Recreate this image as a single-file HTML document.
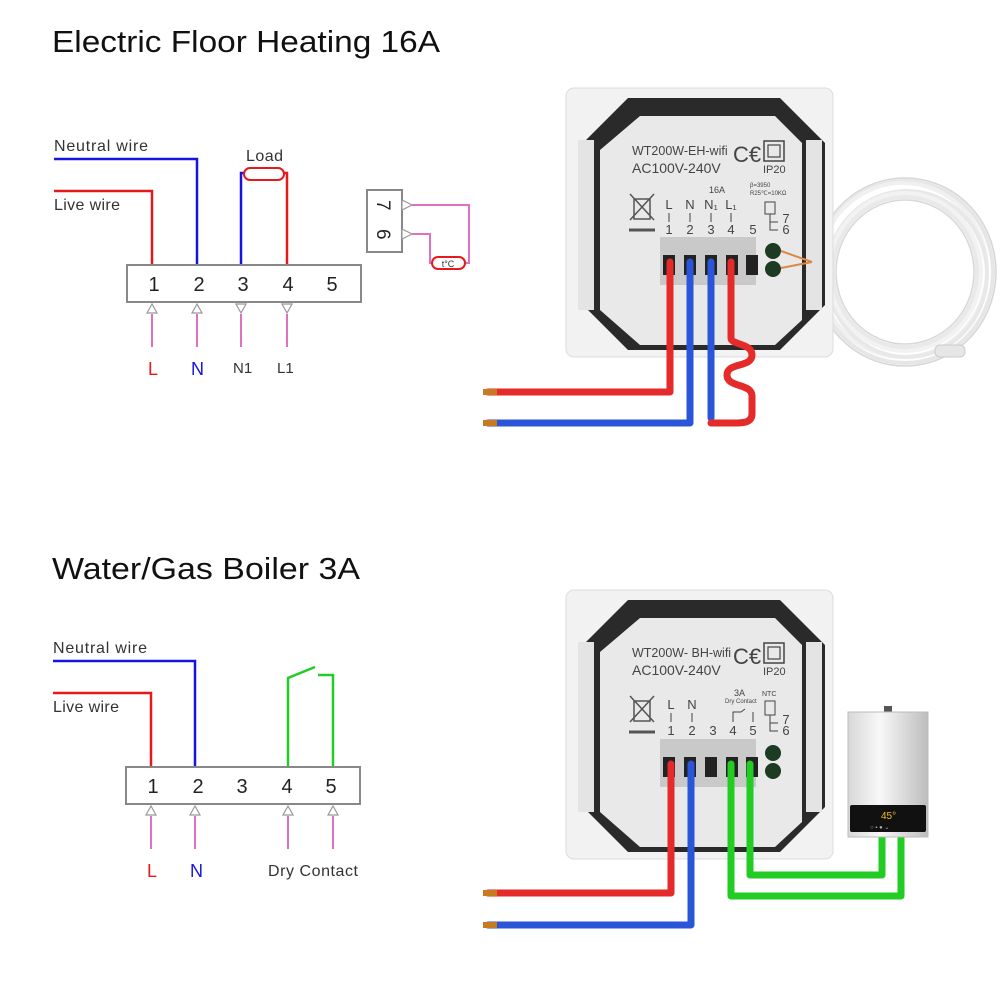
<!DOCTYPE html>
<html><head><meta charset="utf-8"><style>
html,body{margin:0;padding:0;background:#fff}
svg{display:block}
text{font-family:"Liberation Sans",sans-serif}
</style></head><body>
<svg width="1000" height="1000" viewBox="0 0 1000 1000" xmlns="http://www.w3.org/2000/svg">
<defs>
<linearGradient id="boil" x1="0" x2="1"><stop offset="0" stop-color="#d8d8d8"/><stop offset="0.4" stop-color="#f8f8f8"/><stop offset="1" stop-color="#bdbdbd"/></linearGradient>
<g id="plate">
<rect x="566" y="88" width="267" height="269" rx="8" fill="#f2f2f2" stroke="#dcdcdc"/>
<polygon points="628,98 780,98 825,143 825,305 780,350 628,350 583,305 583,143" fill="#2a2a2a"/>
<rect x="578" y="140" width="16" height="170" fill="#e4e4e4"/>
<rect x="806" y="140" width="16" height="170" fill="#e4e4e4"/>
<polygon points="640,116 775,116 802,143 802,320 775,345 640,345 600,310 600,150" fill="#e9e9e9"/>
<rect x="660" y="237" width="96" height="48" fill="#c9c9c9"/>
<rect x="663" y="255" width="12" height="20" fill="#222"/>
<rect x="684" y="255" width="12" height="20" fill="#222"/>
<rect x="705" y="255" width="12" height="20" fill="#222"/>
<rect x="726" y="255" width="12" height="20" fill="#222"/>
<rect x="746" y="255" width="12" height="20" fill="#222"/>
<circle cx="773" cy="251" r="8" fill="#1d3a22"/>
<circle cx="773" cy="269" r="8" fill="#1d3a22"/>
<g stroke="#555" stroke-width="1.5" fill="none"><path d="M630 194 L654 220 M654 194 L630 220 M634 199 h16 v20 h-16 z"/><path d="M629 230 h26" stroke-width="3"/></g>
<text x="733" y="162" font-size="22" fill="#444">C€</text>
<rect x="764" y="141" width="20" height="20" fill="none" stroke="#444" stroke-width="1.5"/>
<rect x="768" y="145" width="12" height="12" fill="none" stroke="#444" stroke-width="1.2"/>
<text x="763" y="173" font-size="11" fill="#444">IP20</text>
<text x="632" y="173" font-size="14" fill="#444">AC100V-240V</text>
</g>
</defs>

<text x="52" y="52" font-size="31" fill="#111" textLength="388" lengthAdjust="spacingAndGlyphs">Electric Floor Heating 16A</text>
<text x="52" y="579" font-size="31" fill="#111" textLength="308" lengthAdjust="spacingAndGlyphs">Water/Gas Boiler 3A</text>

<!-- top left diagram -->
<g font-size="16" fill="#333">
<text x="54" y="151" textLength="94">Neutral wire</text>
<text x="54" y="210" textLength="66">Live wire</text>
<text x="246" y="161" textLength="37">Load</text>
</g>
<g fill="none" stroke-width="2.5">
<path d="M54 159 H197 V265" stroke="#1515e0"/>
<path d="M54 191 H152 V265" stroke="#e61a1a"/>
<path d="M241 265 V173 H245" stroke="#1515e0"/>
<path d="M287 265 V173 H283" stroke="#e61a1a"/>
</g>
<rect x="244" y="168" width="40" height="12" rx="6" fill="#fff" stroke="#e61a1a" stroke-width="2"/>
<rect x="127" y="265" width="234" height="37" fill="#fff" stroke="#888" stroke-width="2"/>
<g font-size="20" fill="#222" text-anchor="middle"><text x="154" y="291">1</text><text x="199" y="291">2</text><text x="243" y="291">3</text><text x="288" y="291">4</text><text x="332" y="291">5</text></g>
<g stroke="#999" fill="#fff" stroke-width="1.2">
<polygon points="152,304 147,313 157,313"/><polygon points="197,304 192,313 202,313"/>
<polygon points="236,304 246,304 241,313"/><polygon points="282,304 292,304 287,313"/>
</g>
<g stroke="#e070c0" stroke-width="2"><path d="M152 314 V347 M197 314 V347 M241 314 V347 M287 314 V347"/></g>
<text x="148" y="375" font-size="18" fill="#e61a1a">L</text>
<text x="191" y="375" font-size="18" fill="#1515e0">N</text>
<text x="233" y="373" font-size="15" fill="#333">N1</text>
<text x="277" y="373" font-size="15" fill="#333">L1</text>
<rect x="367" y="190" width="35" height="62" fill="#fff" stroke="#888" stroke-width="2"/>
<text x="377" y="200" font-size="19" fill="#222" transform="rotate(90 377 200)">7</text>
<text x="377" y="229" font-size="19" fill="#222" transform="rotate(90 377 229)">6</text>
<g stroke="#999" fill="#fff" stroke-width="1.2"><polygon points="402,200 402,210 412,205"/><polygon points="402,229 402,239 412,234"/></g>
<path d="M412 205 H469 V263 H465 M412 234 H430 V263 H432" fill="none" stroke="#e070c0" stroke-width="2"/>
<rect x="432" y="257" width="33" height="12" rx="6" fill="#fff" stroke="#e61a1a" stroke-width="2"/>
<text x="448" y="267" font-size="9" fill="#333" text-anchor="middle">t°C</text>

<!-- bottom left diagram -->
<g font-size="16" fill="#333">
<text x="53" y="653" textLength="94">Neutral wire</text>
<text x="53" y="712" textLength="66">Live wire</text>
</g>
<g fill="none" stroke-width="2.5">
<path d="M53 661 H195 V767" stroke="#1515e0"/>
<path d="M53 693 H151 V767" stroke="#e61a1a"/>
<path d="M288 767 V678 L315 667 M318 675 H333 V767" stroke="#22cc22"/>
</g>
<rect x="126" y="767" width="234" height="37" fill="#fff" stroke="#888" stroke-width="2"/>
<g font-size="20" fill="#222" text-anchor="middle"><text x="153" y="793">1</text><text x="198" y="793">2</text><text x="242" y="793">3</text><text x="287" y="793">4</text><text x="331" y="793">5</text></g>
<g stroke="#999" fill="#fff" stroke-width="1.2">
<polygon points="151,806 146,815 156,815"/><polygon points="195,806 190,815 200,815"/>
<polygon points="288,806 283,815 293,815"/><polygon points="333,806 328,815 338,815"/>
</g>
<g stroke="#e070c0" stroke-width="2"><path d="M151 816 V849 M195 816 V849 M288 816 V849 M333 816 V849"/></g>
<text x="147" y="877" font-size="18" fill="#e61a1a">L</text>
<text x="190" y="877" font-size="18" fill="#1515e0">N</text>
<text x="268" y="876" font-size="16" fill="#333" textLength="90">Dry Contact</text>

<!-- coil -->
<g fill="none" stroke-width="4">
<ellipse cx="905" cy="272" rx="88" ry="91" stroke="#e6e6e6"/>
<ellipse cx="903" cy="270" rx="84" ry="87" stroke="#f0f0f0"/>
<ellipse cx="907" cy="274" rx="80" ry="83" stroke="#e8e8e8"/>
<ellipse cx="905" cy="272" rx="76" ry="79" stroke="#f2f2f2"/>
<ellipse cx="905" cy="272" rx="72" ry="75" stroke="#e9e9e9"/>
<ellipse cx="905" cy="272" rx="91" ry="94" stroke="#d6d6d6" stroke-width="1.5"/>
<ellipse cx="905" cy="272" rx="69" ry="72" stroke="#d8d8d8" stroke-width="1.5"/>
</g>
<rect x="935" y="345" width="30" height="12" rx="5" fill="#e6e6e6" stroke="#ccc"/>

<!-- top device -->
<use href="#plate"/>
<g font-size="13" fill="#444">
<text x="632" y="155" font-size="12.5">WT200W-EH-wifi</text>
<text x="709" y="193" font-size="9">16A</text>
<text x="750" y="187" font-size="6">β=3950</text>
<text x="750" y="195" font-size="6">R25℃=10KΩ</text>
<g text-anchor="middle" font-size="13"><text x="669" y="209">L</text><text x="690" y="209">N</text><text x="711" y="209">N₁</text><text x="731" y="209">L₁</text>
<text x="669" y="234">1</text><text x="690" y="234">2</text><text x="711" y="234">3</text><text x="731" y="234">4</text><text x="753" y="234">5</text><text x="786" y="223">7</text><text x="786" y="234">6</text></g>
</g>
<g stroke="#444" stroke-width="1" fill="none"><path d="M669 213 v9 M690 213 v9 M711 213 v9 M731 213 v9"/><rect x="765" y="202" width="10" height="12"/><path d="M770 214 v16 h8 M770 222 h8"/></g>
<path d="M781 251 L812 262 M781 268 L812 262" stroke="#d84" stroke-width="2"/>
<g fill="none" stroke-linecap="round" stroke-linejoin="round" stroke-width="7">
<path d="M670 262 V392 H488" stroke="#e52a2a"/>
<path d="M690 262 V423 H488" stroke="#2a55d8"/>
<path d="M711 262 V418" stroke="#2a55d8"/>
<path d="M731 262 V338 C731 345 752 343 752 355 C752 368 727 362 727 375 C727 388 752 383 752 396 V414 C752 424 740 423 730 423 H711" stroke="#e52a2a"/>
</g>
<g fill="#c87a20"><rect x="483" y="389" width="14" height="6"/><rect x="483" y="420" width="14" height="6"/></g>

<!-- bottom device -->
<g transform="translate(0,502)"><use href="#plate"/></g>
<g font-size="13" fill="#444">
<text x="632" y="657" font-size="12.5">WT200W- BH-wifi</text>
<text x="734" y="696" font-size="9">3A</text>
<text x="725" y="703" font-size="6">Dry Contact</text>
<text x="762" y="696" font-size="7">NTC</text>
<g text-anchor="middle" font-size="13"><text x="671" y="709">L</text><text x="692" y="709">N</text>
<text x="671" y="735">1</text><text x="692" y="735">2</text><text x="713" y="735">3</text><text x="733" y="735">4</text><text x="753" y="735">5</text><text x="786" y="724">7</text><text x="786" y="735">6</text></g>
</g>
<g stroke="#444" stroke-width="1" fill="none"><path d="M671 713 v9 M692 713 v9 M733 722 v-10 h8 l4 -3 M753 712 v10"/><rect x="765" y="701" width="10" height="14"/><path d="M770 715 v16 h8 M770 723 h8"/></g>
<g fill="none" stroke-linecap="round" stroke-linejoin="round" stroke-width="7">
<path d="M671 764 V893 H488" stroke="#e52a2a"/>
<path d="M691 764 V925 H488" stroke="#2a55d8"/>
<path d="M731 764 V896 H901 V838" stroke="#22cc22"/>
<path d="M750 764 V875 H882 V838" stroke="#22cc22"/>
</g>
<g fill="#c87a20"><rect x="483" y="890" width="14" height="6"/><rect x="483" y="922" width="14" height="6"/></g>
<!-- boiler -->
<rect x="884" y="706" width="8" height="7" fill="#555"/>
<rect x="848" y="712" width="80" height="125" fill="url(#boil)" stroke="#bbb"/>
<rect x="850" y="805" width="76" height="27" rx="2" fill="#111"/>
<text x="881" y="819" font-size="10" fill="#e8c020">45°</text>
<text x="870" y="829" font-size="6" fill="#aaa">○ ▪ ●  ⌄</text>
</svg>
</body></html>
